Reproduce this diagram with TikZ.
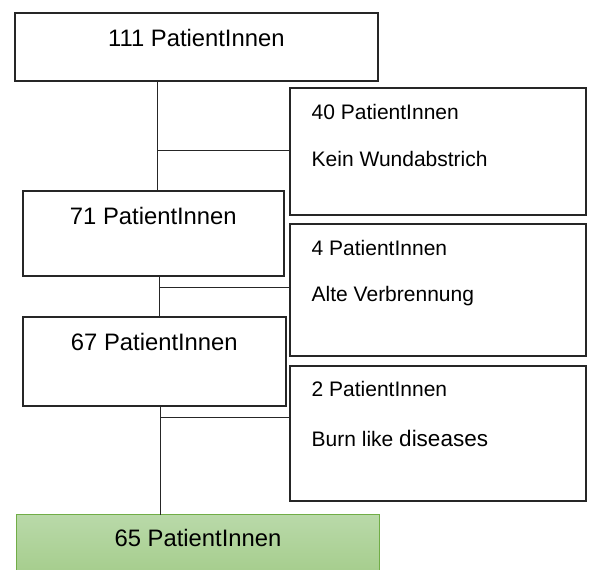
\documentclass[tikz,border=0pt]{standalone}
\usepackage{fontspec}
\setmainfont{Liberation Sans}
\usetikzlibrary{positioning}
\definecolor{ink}{HTML}{262626}
\definecolor{leaf}{HTML}{71AD47}
\definecolor{leaftop}{HTML}{B9D9A9}
\definecolor{leafbot}{HTML}{A5CD8C}

\begin{document}
\begin{tikzpicture}[x=1pt,y=-1pt,every node/.style={inner sep=0pt,outer sep=0pt,text=black},main/.style={draw=ink,line width=2pt,anchor=north west},side/.style={draw=ink,line width=2pt,anchor=north west,minimum width=296pt},big/.style={font=\fontsize{23.8}{28}\selectfont,anchor=base},small/.style={font=\fontsize{21}{25}\selectfont,anchor=base west},link/.style={draw=ink,line width=1pt}]
\useasboundingbox (0,0) rectangle (592,570);
\clip (0,0) rectangle (592,570);
% main column
\node[main,minimum width=363.3pt,minimum height=67.2pt] (b111) at (14.7,13.3) {};
\node[big] (t111) at ([yshift=-33.5pt]b111.north) {111 PatientInnen};
\node[main,minimum width=261.3pt,minimum height=85.3pt] (b71) at (22.7,190.7) {};
\node[big] (t71) at ([yshift=-33.5pt]b71.north) {71 PatientInnen};
\node[main,minimum width=263.3pt,minimum height=88.8pt] (b67) at (22.7,316.7) {};
\node[big] (t67) at ([yshift=-34pt]b67.north) {67 PatientInnen};
\node[main,draw=leaf,line width=1.3pt,top color=leaftop,bottom color=leafbot,minimum width=362.6pt,minimum height=60pt] (b65) at (16.7,514.7) {};
\node[big] (t65) at ([yshift=-32pt]b65.north) {65 PatientInnen};
% excluded
\node[side,minimum height=126.7pt] (b40) at (290,88.3) {};
\node[small] (t40a) at ([xshift=21.7pt,yshift=-30.7pt]b40.north west) {40 PatientInnen};
\node[small] (t40b) at ([xshift=21.7pt,yshift=-78pt]b40.north west) {Kein Wundabstrich};
\node[side,minimum height=131.7pt] (b4) at (290,224) {};
\node[small] (t4a) at ([xshift=21.7pt,yshift=-31pt]b4.north west) {4 PatientInnen};
\node[small] (t4b) at ([xshift=21.7pt,yshift=-77.7pt]b4.north west) {Alte Verbrennung};
\node[side,minimum height=135.3pt] (b2) at (290,365.7) {};
\node[small] (t2a) at ([xshift=21.7pt,yshift=-31pt]b2.north west) {2 PatientInnen};
\node[small] (t2b) at ([xshift=21.7pt,yshift=-81pt]b2.north west) {Burn like {\fontsize{22.5}{27}\selectfont diseases}};
% connectors
\coordinate (j40) at (157.5,150.7);
\coordinate (j4) at (159,287);
\coordinate (j2) at (160,417.3);
\draw[link] (b111.south -| j40) -- (b71.north -| j40);\draw[link] (j40) -- (j40 -| b40.west);
\draw[link] (b71.south -| j4) -- (b67.north -| j4);\draw[link] (j4) -- (j4 -| b4.west);
\draw[link] (b67.south -| j2) -- (b65.north -| j2);\draw[link] (j2) -- (j2 -| b2.west);
\end{tikzpicture}
\end{document}
